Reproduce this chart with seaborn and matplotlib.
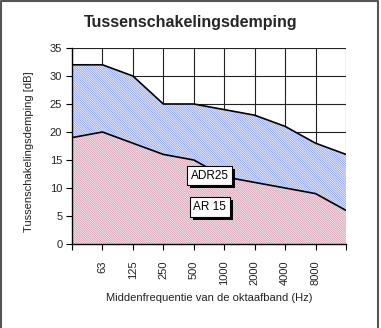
import numpy as np
import pandas as pd
import matplotlib
matplotlib.use("Agg")
import matplotlib.pyplot as plt
from matplotlib.patches import Rectangle
import seaborn as sns

positions = [0, 1, 2, 3, 4, 5, 6, 7, 8, 9]
freq_labels = ["", "63", "125", "250", "500", "1000", "2000", "4000", "8000", ""]
adr25 = [32, 32, 30, 25, 25, 24, 23, 21, 18, 16]
ar15 = [19, 20, 18, 16, 15, 12, 11, 10, 9, 6]

title = "Tussenschakelingsdemping"
ylabel = "Tussenschakelingsdemping [dB]"
xlabel = "Middenfrequentie van de oktaafband (Hz)"

sns.set_style("white")
plt.rcParams["font.family"] = ["Liberation Sans", "DejaVu Sans"]
plt.rcParams["hatch.linewidth"] = 0.5

df = pd.DataFrame({"pos": positions, "ADR25": adr25, "AR15": ar15})

fig = plt.figure(figsize=(3.81, 3.28), dpi=100)
ax = fig.add_axes([72/381, 1-244/328, (346-72)/381, (244-48)/328])

# grid
ax.set_axisbelow(True)
ax.grid(True, color="#222222", linewidth=0.8)

hatch = "\\" * 15
ax.fill_between(df["pos"], df["AR15"], df["ADR25"], facecolor="#eef1ff",
                edgecolor="#8098ee", hatch=hatch, linewidth=0, zorder=2)
ax.fill_between(df["pos"], 0, df["AR15"], facecolor="#fcedf2",
                edgecolor="#cc90a8", hatch=hatch, linewidth=0, zorder=2)

sns.lineplot(data=df, x="pos", y="ADR25", color="black", linewidth=1.2, ax=ax, zorder=3)
sns.lineplot(data=df, x="pos", y="AR15", color="black", linewidth=1.2, ax=ax, zorder=3)

ax.set_xlim(0, 9)
ax.set_ylim(0, 35)
ax.set_xticks(positions)
ax.set_xticklabels(freq_labels, rotation=90, fontsize=8, color="#222222")
ax.set_yticks(np.arange(0, 36, 5))
ax.tick_params(axis="y", labelsize=8, labelcolor="#222222", length=4, width=0.8, color="black",
               direction="out", left=True, pad=3)
ax.tick_params(axis="x", length=4, width=0.8, color="black", direction="out", bottom=True, pad=8)

for s in ["top", "right"]:
    ax.spines[s].set_visible(False)
for s in ["left", "bottom"]:
    ax.spines[s].set_color("black")
    ax.spines[s].set_linewidth(1.0)
    ax.spines[s].set_zorder(4)

ax.set_xlabel(xlabel, fontsize=8, color="#222222", labelpad=6)
ax.set_ylabel(ylabel, fontsize=8, color="#222222")
ax.yaxis.set_label_coords(-0.137, 0.47)
ax.xaxis.set_label_coords(0.5, -0.25)

fig.text(0.5, 1-22/328, title, ha="center", va="center", fontsize=11.5, fontweight="bold")

# labels with drop shadows
labels = []
for x, y, s in [(4.53, 12.2, "ADR25"), (4.53, 6.6, "AR 15")]:
    t = ax.text(x, y, s, ha="center", va="center", fontsize=8.5, color="black",
                bbox=dict(boxstyle="square,pad=0.3", facecolor="white", edgecolor="black", linewidth=0.8),
                zorder=6)
    labels.append(t)

fig.canvas.draw()
renderer = fig.canvas.get_renderer()
for t in labels:
    bb = t.get_bbox_patch().get_window_extent(renderer)
    fig.add_artist(Rectangle((bb.x0 + 3, bb.y0 - 3), bb.width, bb.height, transform=None,
                             facecolor="black", edgecolor="none", zorder=5))
for t in labels:
    t.remove()
    fig.add_artist(t)
    t.set_transform(ax.transData)
    t.set_zorder(10)

# outer frame
fig.add_artist(plt.Line2D([0.003, 0.003, 0.993, 0.993], [0.0, 0.997, 0.997, 0.0],
                          transform=fig.transFigure, color="#555555", linewidth=1.5))

fig.savefig("out.png", dpi=100)
